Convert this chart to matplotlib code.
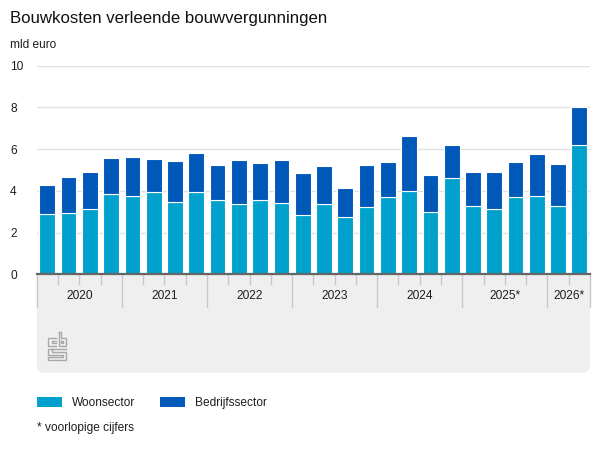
import numpy as np
import matplotlib
matplotlib.use("Agg")
import matplotlib.pyplot as plt
from matplotlib.patches import FancyBboxPatch, Rectangle, Patch
from matplotlib.lines import Line2D
import matplotlib.transforms as mtransforms

plt.rcParams['font.family'] = ['Liberation Sans', 'DejaVu Sans']

# ---- data ----
jaren = ['2020', '2021', '2022', '2023', '2024', '2025*', '2026*']
kwartalen_per_jaar = [4, 4, 4, 4, 4, 4, 2]
woonsector = [2.88, 2.92, 3.12, 3.83, 3.74, 3.93, 3.45, 3.93, 3.55, 3.35, 3.55, 3.40,
              2.83, 3.35, 2.73, 3.21, 3.69, 3.98, 2.97, 4.60, 3.26, 3.12, 3.69, 3.74,
              3.26, 6.21]
bedrijfssector = [1.40, 1.74, 1.78, 1.75, 1.88, 1.60, 1.98, 1.88, 1.69, 2.13, 1.79, 2.08,
                  2.03, 1.84, 1.41, 2.03, 1.69, 2.65, 1.79, 1.60, 1.64, 1.78, 1.69, 2.03,
                  2.03, 1.81]
y_ticks = [0, 2, 4, 6, 8, 10]

C_WOON = '#00a1cd'
C_BEDR = '#0058b8'
TXT = '#1e1e1e'
FS = 8.6

W, H = 600, 450
fig = plt.figure(figsize=(6, 4.5), dpi=100)

def fx(px):
    return px / W

def fy(py):
    return 1 - py / H

ax_l, ax_r, ax_t, ax_b = 36.7, 590, 65.7, 274.3
ax = fig.add_axes([fx(ax_l), fy(ax_b), fx(ax_r - ax_l), (ax_b - ax_t) / H])
ax.set_zorder(2)

# gray band below the axis
band_top, band_bot = ax_b, 372.7
fig.patches.append(FancyBboxPatch((fx(ax_l), fy(band_bot)), fx(ax_r - ax_l), (band_bot - band_top) / H,
                                  boxstyle='round,pad=0,rounding_size=0.012',
                                  transform=fig.transFigure, facecolor='#efefef',
                                  edgecolor='none', zorder=-2, mutation_aspect=600/450))
fig.patches.append(Rectangle((fx(ax_l), fy(band_top + 20)), fx(ax_r - ax_l), 20 / H,
                             transform=fig.transFigure, facecolor='#efefef',
                             edgecolor='none', zorder=-2))

n = len(woonsector)
x = np.arange(n)
ax.bar(x, woonsector, width=0.74, color=C_WOON, edgecolor='white', linewidth=0.8,
       label='Woonsector', zorder=2)
ax.bar(x, bedrijfssector, bottom=woonsector, width=0.74, color=C_BEDR, edgecolor='white',
       linewidth=0.8, label='Bedrijfssector', zorder=2)

ax.set_xlim(-0.5, n - 0.5)
ax.set_ylim(0, 10)
ax.set_yticks(y_ticks)
ax.set_yticklabels([str(v) for v in y_ticks])
ax.yaxis.grid(True, color='#e1e1e1', linewidth=1.0, zorder=0)
ax.set_axisbelow(True)
ax.tick_params(axis='y', length=0, pad=(ax_l - 10) / 1.389, labelsize=FS, labelcolor=TXT)
for lab in ax.get_yticklabels():
    lab.set_horizontalalignment('left')
ax.set_xticks([])
for s in ['top', 'right', 'left']:
    ax.spines[s].set_visible(False)
ax.spines['bottom'].set_color('#666666')
ax.spines['bottom'].set_linewidth(1.6)
ax.spines['bottom'].set_zorder(5)
ax.patch.set_alpha(0)

# year separators, quarter ticks and year labels
trans = mtransforms.blended_transform_factory(ax.transData, fig.transFigure)
start = 0
for jaar, k in zip(jaren, kwartalen_per_jaar):
    b0 = start - 0.5
    ax.add_line(Line2D([b0, b0], [fy(ax_b), fy(ax_b + 33)], transform=trans, color='#c8c8c8',
                       linewidth=1.0, clip_on=False, zorder=1))
    for q in range(1, k):
        xb = start + q - 0.5
        ax.add_line(Line2D([xb, xb], [fy(ax_b), fy(ax_b + 10)], transform=trans, color='#c8c8c8',
                           linewidth=1.0, clip_on=False, zorder=1))
    ax.text(start + (k - 1) / 2, fy(299.3), jaar, transform=trans, ha='center', va='baseline',
            fontsize=FS, color=TXT, clip_on=False)
    start += k
ax.add_line(Line2D([n - 0.5, n - 0.5], [fy(ax_b), fy(ax_b + 33)], transform=trans, color='#c8c8c8',
                   linewidth=1.0, clip_on=False, zorder=1))

# cbs logo (decorative)
def logo_line(pts):
    xs = [fx(p[0]) for p in pts]
    ys = [fy(p[1]) for p in pts]
    fig.add_artist(Line2D(xs, ys, transform=fig.transFigure, color='#a8a8a8', linewidth=1.0,
                          solid_joinstyle='miter', zorder=3))

# "c"
logo_line([(56, 337.5), (48.5, 337.5), (48.5, 346), (56, 346)])
logo_line([(56, 340.5), (51.5, 340.5), (51.5, 343), (56, 343)])
# "b"
logo_line([(58.5, 331.5), (58.5, 346), (66, 346), (66, 337.5), (61.5, 337.5), (61.5, 331.5), (58.5, 331.5)])
logo_line([(61.5, 340.5), (63, 340.5), (63, 343), (61.5, 343), (61.5, 340.5)])
# "S"
logo_line([(66, 348.5), (48.5, 348.5), (48.5, 354.5), (63, 354.5), (63, 356.5), (48.5, 356.5),
           (48.5, 359.5), (66, 359.5), (66, 351.5), (51.5, 351.5), (51.5, 348.5)])

# titles
fig.text(fx(10), fy(23.3), 'Bouwkosten verleende bouwvergunningen', fontsize=12.1,
         color='#111111', ha='left', va='baseline')
fig.text(fx(10), fy(47.7), 'mld euro', fontsize=FS, color=TXT, ha='left', va='baseline')

# legend
handles = [Patch(facecolor=C_WOON, edgecolor='none'), Patch(facecolor=C_BEDR, edgecolor='none')]
fpx = FS * 100 / 72
leg = fig.legend(handles, ['Woonsector', 'Bedrijfssector'], loc='center left',
                 bbox_to_anchor=(fx(37), fy(403)), ncol=2, frameon=False, fontsize=FS,
                 handlelength=25 / fpx, handleheight=10 / fpx, handletextpad=10 / fpx,
                 columnspacing=24.3 / fpx, borderpad=0, borderaxespad=0)
for t in leg.get_texts():
    t.set_color(TXT)

fig.text(fx(37), fy(431.5), '* voorlopige cijfers', fontsize=FS, color=TXT, ha='left', va='baseline')

fig.savefig('out.png', dpi=100)
